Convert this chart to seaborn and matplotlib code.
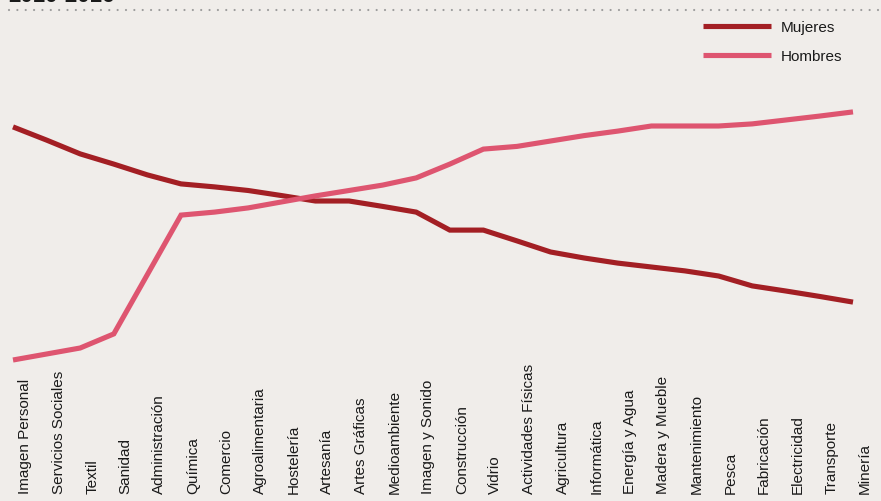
import numpy as np
import pandas as pd
import matplotlib
matplotlib.use("Agg")
import matplotlib.pyplot as plt
import matplotlib.transforms as mtransforms
from matplotlib.lines import Line2D
import seaborn as sns

# Familias profesionales, ordenadas de mayor a menor presencia femenina
categorias = [
    "Imagen Personal", "Servicios Sociales", "Textil", "Sanidad", "Administración",
    "Química", "Comercio", "Agroalimentaria", "Hostelería", "Artesanía",
    "Artes Gráficas", "Medioambiente", "Imagen y Sonido", "Construcción", "Vidrio",
    "Actividades Físicas", "Agricultura", "Informática", "Energía y Agua",
    "Madera y Mueble", "Mantenimiento", "Pesca", "Fabricación", "Electricidad",
    "Transporte", "Minería",
]

mujeres = [90.7, 86.3, 81.7, 78.3, 74.7, 71.7, 70.7, 69.5, 67.8, 66.0,
           66.0, 64.2, 62.3, 56.3, 56.3, 52.7, 49.0, 47.0, 45.3, 44.0,
           42.7, 41.0, 37.7, 36.0, 34.2, 32.3]

hombres = [13.0, 15.0, 17.0, 21.7, 41.5, 61.3, 62.3, 63.7, 65.7, 67.7,
           69.5, 71.3, 73.7, 78.3, 83.3, 84.2, 86.0, 87.8, 89.3, 91.0,
           91.0, 91.0, 91.7, 93.0, 94.3, 95.7]

series = ["Mujeres", "Hombres"]
colores = {"Mujeres": "#a31f24", "Hombres": "#de5570"}
fondo = "#f0edea"

idx = np.arange(len(categorias))
df = pd.concat([
    pd.DataFrame({"pos": idx, "valor": mujeres, "serie": "Mujeres"}),
    pd.DataFrame({"pos": idx, "valor": hombres, "serie": "Hombres"}),
], ignore_index=True)

sns.set_theme(style="white")
plt.rcParams["font.family"] = ["Liberation Sans", "DejaVu Sans"]

W, H = 881, 502
fig = plt.figure(figsize=(W / 100, H / 100), dpi=100, facecolor=fondo)
ax = fig.add_axes([0, 0, 1, 1])
ax.set_facecolor(fondo)

sns.lineplot(data=df, x="pos", y="valor", hue="serie", hue_order=series,
             palette=colores, linewidth=3.7, ax=ax, sort=False,
             solid_joinstyle="miter", solid_capstyle="butt")

# Escalas: la primera familia a 13 px del borde, separación de 33.6 px
paso = 33.6
ax.set_xlim(-13 / paso, (W - 13) / paso)
ax.set_ylim(-34, 400 / 3)

for s in ax.spines.values():
    s.set_visible(False)
ax.set_yticks([])
ax.set_xticks(idx)
ax.set_xticklabels(categorias, rotation=90, fontsize=11, color="#1a1a1a",
                   va="bottom", ha="center")
ax.tick_params(axis="x", length=0, pad=-5.8)
desplaz = mtransforms.ScaledTranslation(12 / 100, 0, fig.dpi_scale_trans)
for lab in ax.get_xticklabels():
    lab.set_transform(lab.get_transform() + desplaz)
ax.set_xlabel("")
ax.set_ylabel("")

leg = ax.legend(loc="upper left", bbox_to_anchor=(703 / W, 1 - 21 / H),
                bbox_transform=fig.transFigure, frameon=False, fontsize=11,
                handlelength=4.45, handletextpad=0.65, labelspacing=1.0,
                borderpad=0, borderaxespad=0, title=None)
for t in leg.get_texts():
    t.set_color("#1a1a1a")
for h in leg.get_lines():
    h.set_linewidth(3.7)

# Línea punteada bajo el título
fig.add_artist(Line2D([9 / W, 1], [1 - 11 / H, 1 - 11 / H],
                      transform=fig.transFigure, color="#9c9c9c", lw=1.6,
                      linestyle=(0, (0.01, 3.75)), dash_capstyle="round"))
fig.text(8 / W, 1 - 2 / H, "2010-2016", fontsize=16, fontweight="bold",
         color="#1a1a1a", va="baseline", ha="left")

fig.savefig("out.png", dpi=100, facecolor=fondo)
